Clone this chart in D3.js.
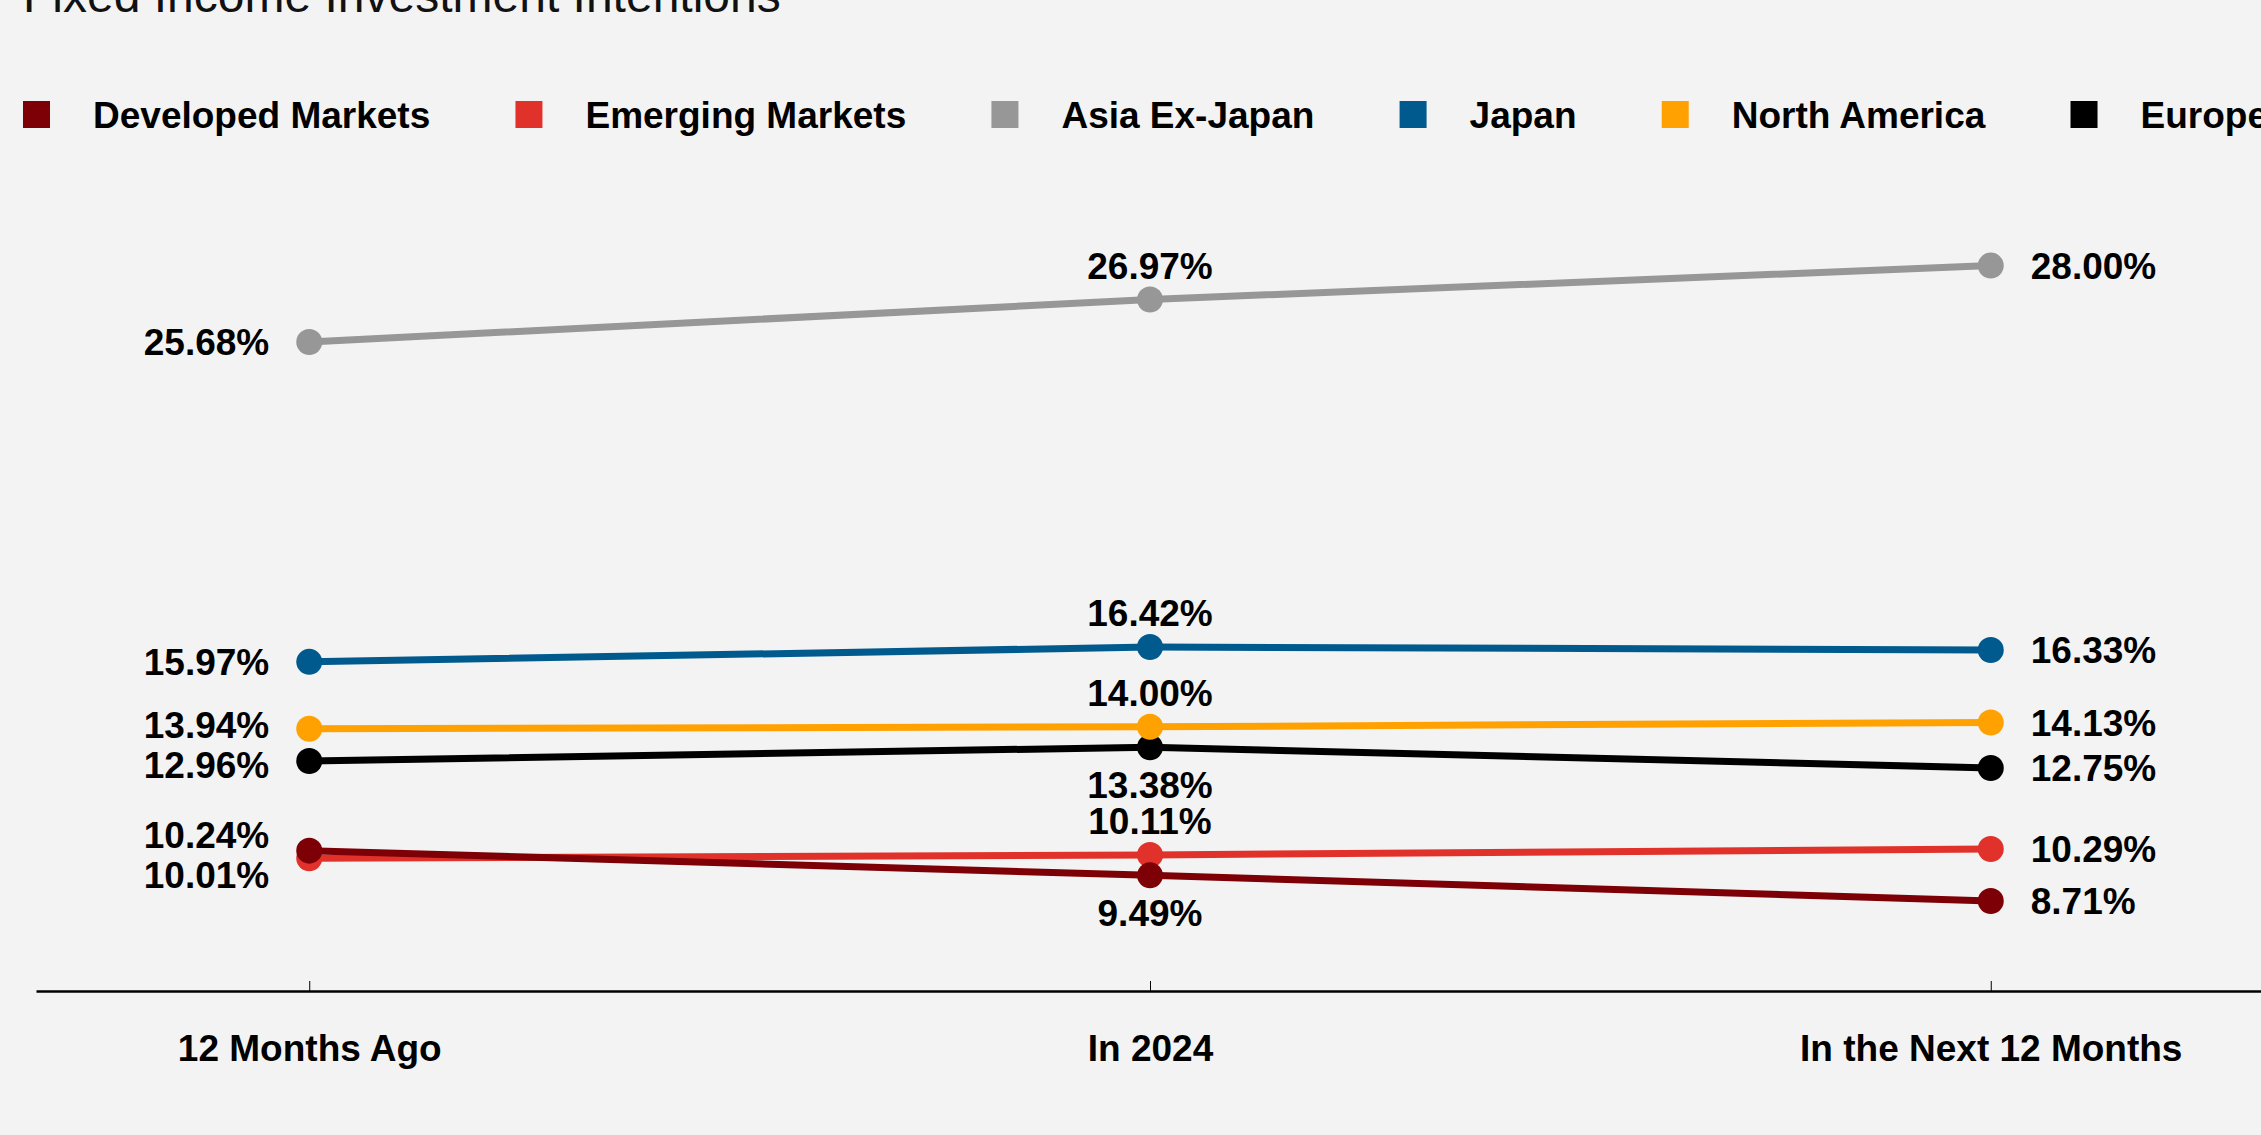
<!DOCTYPE html>
<html><head><meta charset="utf-8">
<script src="https://cdn.jsdelivr.net/npm/d3@7"></script>
<style>
html,body{margin:0;padding:0;background:#f3f3f3;}
svg{display:block;}
text{font-family:"Liberation Sans",Arial,Helvetica,sans-serif;}
</style></head><body>
<svg id="chart" width="2261" height="1135"></svg>
<script>
// ---------- data ----------
const title = "Fixed Income Investment Intentions";
const categories = ["12 Months Ago", "In 2024", "In the Next 12 Months"];
const seriesNames = ["Developed Markets", "Emerging Markets", "Asia Ex-Japan", "Japan", "North America", "Europe"];
const developedMarkets = [10.24, 9.49, 8.71];
const emergingMarkets  = [10.01, 10.11, 10.29];
const asiaExJapan      = [25.68, 26.97, 28.00];
const japan            = [15.97, 16.42, 16.33];
const northAmerica     = [13.94, 14.00, 14.13];
const europe           = [12.96, 13.38, 12.75];
const seriesColors = ["#7d0006", "#e0322a", "#979797", "#005a8d", "#ffa100", "#000000"];
const yDomain = [6, 30];

const seriesValues = [developedMarkets, emergingMarkets, asiaExJapan, japan, northAmerica, europe];
const series = seriesNames.map((name, i) => ({name, values: seriesValues[i], color: seriesColors[i]}));

// ---------- layout ----------
const W = 2261, H = 1135;
const FONT = 37;
const svg = d3.select("#chart");
svg.append("rect").attr("width", W).attr("height", H).attr("fill", "#f3f3f3");

svg.append("text").attr("x", 23).attr("y", 12)
  .attr("font-size", 48).attr("fill", "#111").text(title);

// legend
let lx = 23;
series.forEach(s => {
  const g = svg.append("g").attr("transform", `translate(${lx},101)`);
  g.append("rect").attr("width", 27).attr("height", 27).attr("fill", s.color);
  const t = g.append("text").attr("x", 70).attr("y", 26.5)
    .attr("font-size", FONT).attr("font-weight", "bold").attr("fill", "#000").text(s.name);
  lx += 70 + t.node().getComputedTextLength() + 85.2;
});

const x = d3.scalePoint().domain(categories).range([36, 2264]).padding(0.325);
const y = d3.scaleLinear().domain(yDomain).range([990.3, 199.7]);

// axis
const axis = svg.append("g").attr("transform", "translate(0,991)")
  .call(d3.axisBottom(x).tickSize(-10).tickSizeOuter(0).tickPadding(44));
axis.select(".domain").attr("stroke", "#000").attr("stroke-width", 2.5);
axis.selectAll(".tick line").attr("stroke", "#000").attr("stroke-width", 1);
axis.selectAll(".tick text").attr("font-size", FONT).attr("font-weight", "bold")
  .attr("fill", "#000").attr("font-family", '"Liberation Sans",Arial,sans-serif');

// lines + dots (reverse so first series is on top)
const line = d3.line().x((d, i) => x(categories[i])).y(d => y(d));
const drawOrder = series.slice().reverse();
const lineG = svg.append("g");
drawOrder.forEach(s => {
  const g = lineG.append("g");
  g.append("path").attr("d", line(s.values)).attr("fill", "none")
    .attr("stroke", s.color).attr("stroke-width", 7).attr("stroke-linejoin", "round");
  g.selectAll("circle").data(s.values).join("circle")
    .attr("cx", (d, i) => x(categories[i])).attr("cy", d => y(d))
    .attr("r", 13).attr("fill", s.color);
});

// label collision spreading
function spread(items, gap) {
  items.sort((a, b) => a.y - b.y);
  const clusters = items.map(it => ({members: [it]}));
  const layout = c => {
    const n = c.members.length;
    const mean = d3.mean(c.members, m => m.y);
    c.top = mean - (n - 1) * gap / 2;
    c.bottom = c.top + (n - 1) * gap;
  };
  clusters.forEach(layout);
  let changed = true;
  while (changed) {
    changed = false;
    for (let i = 0; i < clusters.length - 1; i++) {
      if (clusters[i + 1].top - clusters[i].bottom < gap) {
        clusters[i].members = clusters[i].members.concat(clusters[i + 1].members);
        clusters.splice(i + 1, 1);
        layout(clusters[i]);
        changed = true;
        break;
      }
    }
  }
  clusters.forEach(c => c.members.forEach((m, k) => m.ty = c.top + k * gap));
}

const fmt = v => v.toFixed(2) + "%";
const labelG = svg.append("g").attr("font-size", FONT).attr("font-weight", "bold").attr("fill", "#000");

categories.forEach((cat, ci) => {
  const items = series.map(s => ({v: s.values[ci], y: y(s.values[ci]), ty: y(s.values[ci])}));
  const cx = x(cat);
  if (ci === 0 || ci === categories.length - 1) {
    spread(items, 40);
    items.forEach(it => {
      labelG.append("text")
        .attr("x", ci === 0 ? cx - 40 : cx + 40)
        .attr("y", it.ty).attr("dy", "0.36em")
        .attr("text-anchor", ci === 0 ? "end" : "start")
        .text(fmt(it.v));
    });
  } else {
    items.forEach(it => {
      const crowdedAbove = items.some(o => o !== it && o.y < it.y && it.y - o.y < 60);
      const ty = crowdedAbove ? it.y + 37 : it.y - 34;
      labelG.append("text").attr("x", cx).attr("y", ty).attr("dy", "0.36em")
        .attr("text-anchor", "middle").text(fmt(it.v));
    });
  }
});
</script>
</body></html>
